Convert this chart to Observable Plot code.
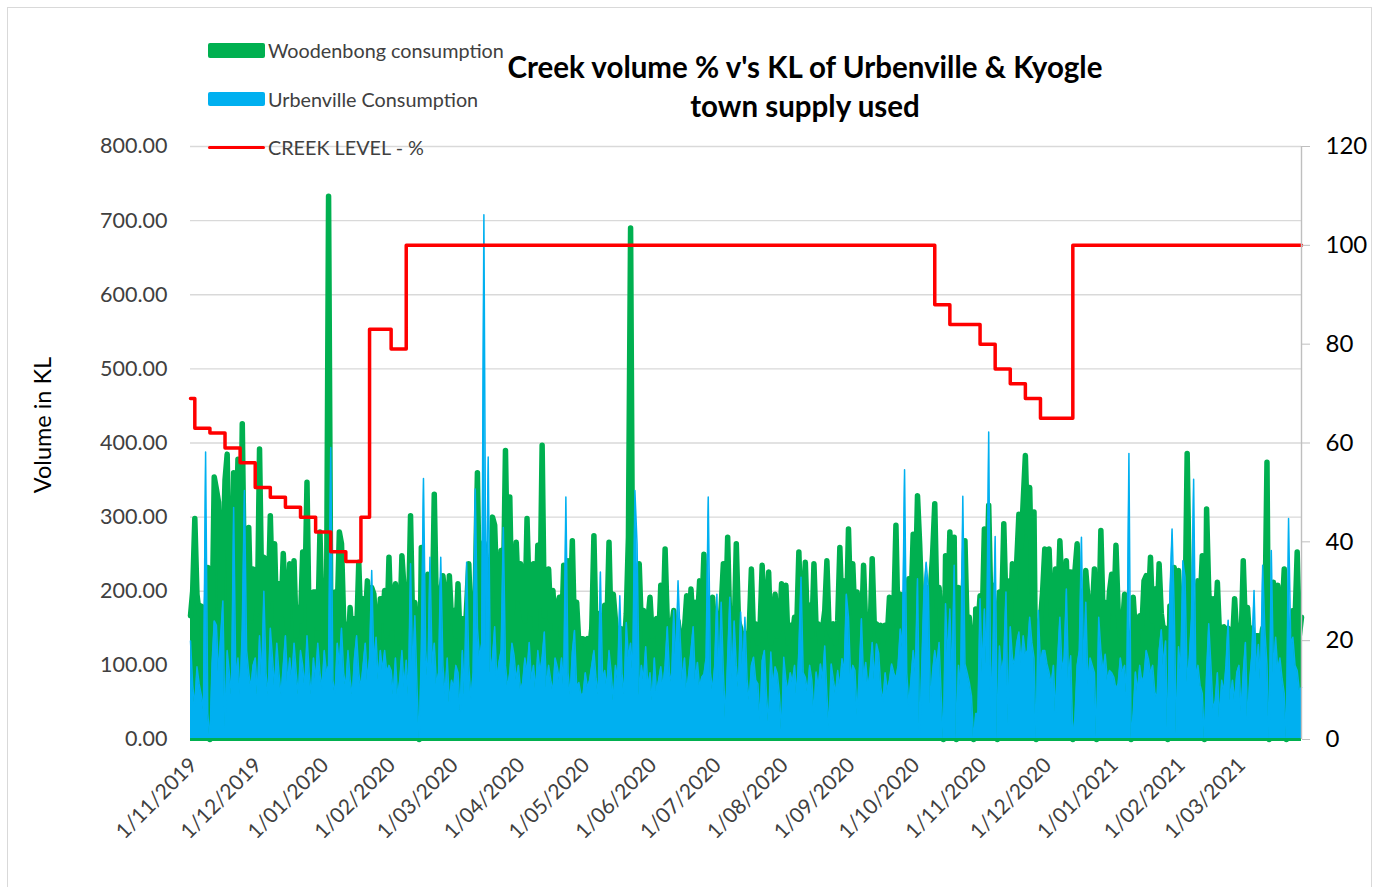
<!DOCTYPE html>
<html><head><meta charset="utf-8">
<script src="https://cdn.jsdelivr.net/npm/d3@7"></script>
<script src="https://cdn.jsdelivr.net/npm/@observablehq/plot@0.6"></script>
<style>
body{margin:0;background:#fff;font-family:Lato,"Open Sans",sans-serif;}
#wrap{position:relative;width:1383px;height:887px;overflow:hidden;background:#fff;}
#frame{position:absolute;left:7px;top:7px;width:1365px;height:900px;border:1px solid #d9d9d9;box-sizing:border-box;}
#chart{position:absolute;left:0;top:0;}
#title{position:absolute;left:405px;width:800px;top:47px;text-align:center;font-weight:bold;font-size:29.5px;line-height:39px;color:#000;}
.sw{position:absolute;left:208px;width:57px;border-radius:2px;}
.lt{position:absolute;left:268px;font-size:19.8px;color:#404040;line-height:20px;white-space:nowrap;}
#ylab{position:absolute;left:42px;top:425px;transform:translate(-50%,-50%) rotate(-90deg);font-size:23.5px;color:#000;white-space:nowrap;}
</style></head>
<body>
<div id="wrap">
  <div id="frame"></div>
  <div id="chart"></div>
  <div id="title">Creek volume % v's KL of Urbenville &amp; Kyogle<br>town supply used</div>
  <div class="sw" style="top:43px;height:15px;background:#00b050"></div>
  <div class="lt" style="top:40px">Woodenbong consumption</div>
  <div class="sw" style="top:92px;height:14px;background:#00b0f0"></div>
  <div class="lt" style="top:89px">Urbenville Consumption</div>
  <div class="sw" style="top:146px;height:3px;background:#ff0000"></div>
  <div class="lt" style="top:137px">CREEK LEVEL - %</div>
  <div id="ylab">Volume in KL</div>
</div>
<script>
// Daily series start 1/11/2019, one value per day (KL)
const startDate = "2019-11-01";
const woodenbong = [
  // Nov 2019
  167,200,298,196,170,180,120,150,232,0, 150,354,338,320,170,240,350,385,200,130, 360,250,378,180,426,200,170,286,160,230,
  // Dec 2019
  228,170,392,200,246,241,180,302,190,264, 150,210,170,251,187,150,237,180,241,140, 178,160,253,190,347,150,120,199,199,150, 280,
  // Jan 2020
  170,199,140,733,180,150,199,170,280,264, 160,143,120,178,130,163,140,239,150,190, 160,214,170,205,196,150,130,190,160,201, 140,
  // Feb 2020
  246,150,170,210,130,150,248,203,120,160, 302,150,185,140,0,259,150,170,223,160, 150,331,170,140,200,221,192,150,221,
  // Mar 2020
  160,174,140,210,130,163,120,180,237,150, 147,200,360,170,200,266,244,180,200,300, 289,200,180,255,190,390,220,327,170,200, 266,
  // Apr 2020
  190,237,180,160,298,190,170,237,150,262, 180,397,167,200,230,160,201,150,180,192, 140,235,180,241,170,268,140,185,130,136,
  // May 2020
  136,130,136,120,150,275,140,170,165,130, 181,150,266,140,196,160,130,150,149,120, 170,273,690,160,200,180,237,150,174,130, 160,
  // Jun 2020
  192,140,156,163,130,208,150,257,160,120, 152,174,140,160,134,120,150,194,140,203, 150,185,160,214,170,250,150,180,140,192,
  // Jul 2020
  150,170,140,180,237,160,273,150,170,140, 264,160,150,130,143,120,150,230,140,156, 130,150,235,140,181,226,130,152,196,140, 150,
  // Aug 2020
  210,150,208,130,154,140,165,150,253,160, 170,239,150,181,140,237,150,156,130,150, 174,241,150,140,156,130,160,259,170,214, 150,
  // Sep 2020
  284,180,237,160,199,160,140,235,150,163, 140,244,150,156,140,154,130,154,140,192, 150,170,289,150,196,180,196,150,217,180,
  // Oct 2020
  277,200,329,264,180,200,150,205,203,250, 318,180,205,150,0,248,170,280,200,273, 0,205,160,180,268,150,165,130,0,176, 150,
  // Nov 2020
  194,160,284,200,316,180,208,150,0,199, 170,291,180,214,160,237,200,240,304,260, 322,383,280,340,200,307,0,150,160,200,
  // Dec 2020
  257,200,257,170,150,230,180,268,200,160, 241,150,226,0,228,264,170,200,150,228, 190,150,170,230,0,150,282,170,185,150, 200,
  // Jan 2021
  223,170,262,174,140,150,196,150,130,0, 192,143,130,167,150,214,221,180,246,160, 203,150,237,170,147,150,0,180,170,232, 180,
  // Feb 2021
  228,160,150,160,386,200,150,180,160,214, 180,248,0,311,200,150,190,150,212,140, 150,152,130,150,145,130,190,140,
  // Mar 2021
  154,130,241,150,178,130,150,120,140,140, 130,150,150,374,0,150,212,160,208,140, 170,230,0,140,140,174,160,253,140,165
];
const urbenville = [
  // Nov 2019
  133,73,46,98,75,60,40,388,35,0, 102,160,154,89,140,187,17,120,90,60, 313,80,110,60,150,336,120,90,70,100,
  // Dec 2019
  110,60,140,80,200,90,60,150,110,70, 130,90,60,100,140,75,110,80,130,90, 60,120,100,70,140,90,60,110,80,130, 90,
  // Jan 2020
  70,120,90,100,394,80,60,130,100,150, 90,70,120,80,60,110,140,90,70,100, 130,80,110,228,100,138,80,120,93,120, 90,
  // Feb 2020
  100,93,60,110,57,80,120,70,107,60, 237,90,167,70,0,120,352,120,80,246, 100,130,75,90,246,100,60,110,50,
  // Mar 2020
  80,70,100,90,39,120,60,239,100,55, 90,338,150,110,130,708,120,381,90,110, 152,80,104,120,286,100,70,90,130,113, 80,
  // Apr 2020
  100,66,77,110,90,131,80,100,66,120, 90,110,145,70,100,80,64,110,98,80, 110,70,327,90,60,118,147,70,77,60,
  // May 2020
  62,90,70,80,100,120,82,60,226,80, 93,70,120,90,52,100,80,194,90,60, 158,110,130,90,336,264,59,100,80,125, 70,
  // Jun 2020
  90,52,110,64,80,98,70,100,152,90, 77,174,100,214,136,80,110,64,90,120, 152,80,104,70,84,88,110,327,90,66,
  // Jul 2020
  100,196,80,185,90,28,110,192,80,160, 100,70,172,90,165,80,53,100,111,80, 75,26,106,120,60,21,118,70,98,89, 60,
  // Aug 2020
  10,111,80,66,90,77,100,57,120,219, 90,84,64,100,80,35,91,70,102,80, 126,60,17,102,80,62,93,70,109,90, 196,
  // Sep 2020
  165,82,100,93,33,90,163,80,104,70, 90,131,80,129,116,70,52,90,66,80, 102,90,82,100,149,124,364,90,46,82,
  // Oct 2020
  120,90,217,3,100,201,239,205,48,91, 120,100,131,57,0,183,110,176,80,235, 0,100,70,328,102,90,77,59,0,35, 35,
  // Nov 2020
  190,90,176,100,415,35,120,274,0,126, 90,110,199,21,152,110,100,130,145,102, 140,115,120,165,131,110,0,174,100,120,
  // Dec 2020
  120,102,90,75,100,35,110,165,93,110, 203,80,113,0,30,100,120,273,90,185, 73,110,100,90,0,165,120,91,115,80, 93,
  // Jan 2021
  90,84,68,75,110,90,100,57,386,0, 35,91,64,100,77,86,120,109,89,100, 64,55,120,148,100,133,0,194,284,174, 8,
  // Feb 2021
  125,90,241,219,77,110,163,351,82,100, 73,62,0,90,156,100,41,52,90,28, 80,64,100,161,52,80,52,90,
  // Mar 2021
  100,37,90,131,26,80,115,201,90,128, 80,235,148,100,0,255,90,138,93,110, 82,62,0,298,129,138,100,93,66,70
];
// Creek level readings (%), step changes
const creekDates = ["2019-11-01","2019-11-03","2019-11-10","2019-11-17","2019-11-24","2019-12-01","2019-12-08","2019-12-15","2019-12-22","2019-12-29","2020-01-05","2020-01-12","2020-01-19","2020-01-23","2020-02-02","2020-02-09","2020-10-11","2020-10-18","2020-11-01","2020-11-08","2020-11-15","2020-11-22","2020-11-29","2020-12-14","2021-03-30"];
const creekLevels = [69,63,62,59,56,51,49,47,45,42,38,36,45,83,79,100,88,84,80,75,72,69,65,100,100];
const leftTicks = [0,100,200,300,400,500,600,700,800];
const rightTicks = [0,20,40,60,80,100,120];

const t0 = new Date(startDate + "T00:00:00Z").getTime();
const rows = woodenbong.map((w, i) => ({date: new Date(t0 + i * 864e5), w, u: urbenville[i]}));
const endDate = rows[rows.length - 1].date;
const k = 800 / 120;
const creek = creekDates.map((d, i) => ({date: new Date(d + "T00:00:00Z"), v: creekLevels[i] * k}));
const months = d3.utcMonth.range(new Date(t0), endDate);
const fmt = d => `${d.getUTCDate()}/${String(d.getUTCMonth() + 1).padStart(2, "0")}/${d.getUTCFullYear()}`;

const chart = Plot.plot({
  width: 1383, height: 887,
  marginLeft: 190, marginRight: 82, marginTop: 146, marginBottom: 148,
  style: {fontFamily: "Lato, 'Open Sans', sans-serif", background: "transparent", overflow: "visible"},
  x: {type: "utc", domain: [new Date(t0), endDate]},
  y: {domain: [0, 800]},
  marks: [
    Plot.gridY(leftTicks, {stroke: "#d9d9d9", strokeOpacity: 1, strokeWidth: 1.4}),
    Plot.areaY(rows, {x: "date", y: "w", fill: "#00b050"}),
    Plot.line(rows, {x: "date", y: "w", stroke: "#00b050", strokeWidth: 5.5, strokeLinejoin: "round", strokeLinecap: "round"}),
    Plot.areaY(rows, {x: "date", y: "u", fill: "#00b0f0"}),
    Plot.line(rows, {x: "date", y: "u", stroke: "#00b0f0", strokeWidth: 1.5}),
    Plot.ruleY([0], {stroke: "#00b050", strokeWidth: 3}),
    Plot.line(creek, {x: "date", y: "v", stroke: "#ff0000", strokeWidth: 3.5, curve: "step-after"}),
    Plot.ruleX([endDate], {stroke: "#bfbfbf", strokeWidth: 1.4}),
    Plot.axisY(leftTicks, {anchor: "left", tickSize: 0, tickPadding: 23, tickFormat: d => d.toFixed(2), fontSize: 21.5, fill: "#404040", label: null}),
    Plot.axisY(rightTicks.map(v => v * k), {anchor: "right", tickSize: 8, tickPadding: 16, stroke: "#bfbfbf", fill: "#000", tickFormat: d => String(Math.round(d / k)), fontSize: 24, label: null}),
    Plot.axisX(months, {tickSize: 0, tickRotate: -45, tickPadding: 22, dx: 3, tickFormat: fmt, fontSize: 21, fill: "#404040", label: null})
  ]
});
document.getElementById("chart").appendChild(chart);
</script>
</body></html>
